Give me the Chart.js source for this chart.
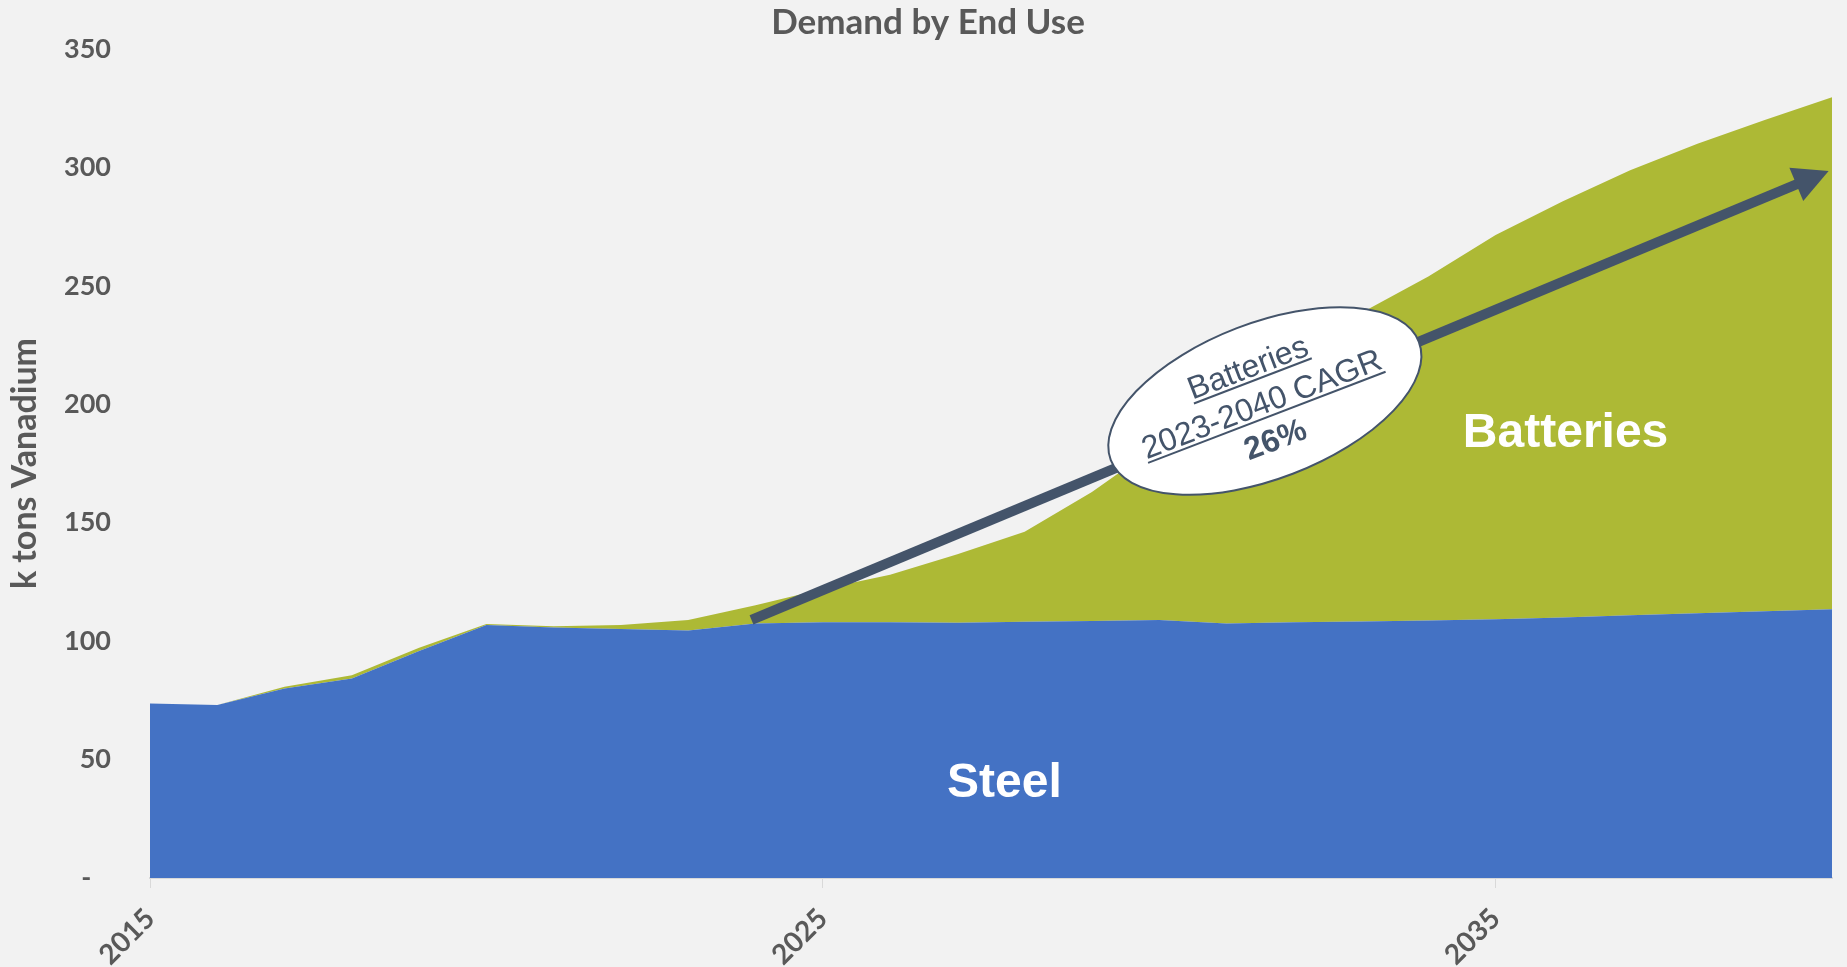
<!DOCTYPE html>
<html lang="en">
  <head>
    <meta charset="UTF-8" />
    <title>Demand by End Use</title>
    <script src="https://cdn.jsdelivr.net/npm/chart.js"></script>
    <style>
      html,
      body {
        margin: 0;
        padding: 0;
        background: #f2f2f2;
        overflow: hidden;
      }
      .chart-container {
        position: relative;
        width: 1847px;
        height: 967px;
      }
    </style>
  </head>
  <body>
    <div class="chart-container">
      <canvas id="demandChart"></canvas>
    </div>

    <script>
      // k tons vanadium by year
      const years = [
        "2015", "2016", "2017", "2018", "2019", "2020", "2021", "2022", "2023",
        "2024", "2025", "2026", "2027", "2028", "2029", "2030", "2031", "2032",
        "2033", "2034", "2035", "2036", "2037", "2038", "2039", "2040",
      ];
      const steel = [
        73.7, 73.0, 80.0, 84.2, 95.8, 106.8, 105.8, 105.1, 104.5, 107.5, 108.0,
        108.0, 107.8, 108.2, 108.5, 108.9, 107.4, 108.0, 108.3, 108.7, 109.2,
        110.0, 110.9, 111.8, 112.6, 113.5,
      ];
      const batteries = [
        0, 0, 0.7, 1.4, 1.4, 0.4, 0.5, 1.7, 4.4, 7.7, 14, 20, 28.9, 38, 54.5,
        74.1, 94.6, 112, 130.2, 145.3, 162.3, 175.7, 187.9, 198.2, 207.4, 216.1,
      ];
      const shownYears = ["2015", "2025", "2035"];
      const cagrLines = ["Batteries", "2023-2040 CAGR", "26%"];

      const grey = "#595959";
      const slate = "#44546A";

      // arrow + callout + area labels, placed in data space
      const overlay = {
        id: "overlay",
        afterDatasetsDraw(chart) {
          const ctx = chart.ctx;
          const x = chart.scales.x;
          const y = chart.scales.y;
          const px = (yr) => x.getPixelForValue(yr - 2015);

          // trend arrow
          const x0 = px(2023.94), y0 = y.getPixelForValue(109);
          const x1 = px(2039.95), y1 = y.getPixelForValue(298.5);
          const ang = Math.atan2(y1 - y0, x1 - x0);
          const headLen = 35, headW = 36;
          const bx = x1 - headLen * Math.cos(ang);
          const by = y1 - headLen * Math.sin(ang);
          ctx.save();
          ctx.strokeStyle = slate;
          ctx.fillStyle = slate;
          ctx.lineWidth = 10;
          ctx.lineCap = "butt";
          ctx.beginPath();
          ctx.moveTo(x0, y0);
          ctx.lineTo(bx + 2 * Math.cos(ang), by + 2 * Math.sin(ang));
          ctx.stroke();
          ctx.beginPath();
          ctx.moveTo(x1, y1);
          ctx.lineTo(bx + (headW / 2) * Math.sin(ang), by - (headW / 2) * Math.cos(ang));
          ctx.lineTo(bx - (headW / 2) * Math.sin(ang), by + (headW / 2) * Math.cos(ang));
          ctx.closePath();
          ctx.fill();

          // callout ellipse
          const cx = px(2031.57), cy = y.getPixelForValue(201.4);
          const rot = (-21 * Math.PI) / 180;
          ctx.translate(cx, cy);
          ctx.rotate(rot);
          ctx.beginPath();
          ctx.ellipse(0, 0, 165, 78, 0, 0, Math.PI * 2);
          ctx.fillStyle = "#ffffff";
          ctx.fill();
          ctx.lineWidth = 2;
          ctx.strokeStyle = slate;
          ctx.stroke();

          ctx.fillStyle = slate;
          ctx.textAlign = "center";
          ctx.textBaseline = "alphabetic";
          const baselines = [-27, 12, 50];
          cagrLines.forEach((line, i) => {
            ctx.font = (i === 2 ? "bold " : "") + "32px 'Liberation Sans', Arial";
            ctx.fillText(line, -4, baselines[i]);
            if (i < 2) {
              const w = ctx.measureText(line).width;
              ctx.fillRect(-4 - w / 2, baselines[i] + 3, w, 2);
            }
          });
          ctx.restore();

          // area labels
          ctx.save();
          ctx.fillStyle = "#ffffff";
          ctx.font = "bold 48px 'Liberation Sans', Arial";
          ctx.textAlign = "center";
          ctx.textBaseline = "middle";
          ctx.fillText("Batteries", px(2036.04), y.getPixelForValue(187.7));
          ctx.fillText("Steel", px(2027.7), y.getPixelForValue(39.8));
          ctx.restore();
        },
      };

      const ctx = document.getElementById("demandChart").getContext("2d");

      new Chart(ctx, {
        type: "line",
        data: {
          labels: years,
          datasets: [
            {
              label: "Steel",
              data: steel,
              fill: "origin",
              backgroundColor: "#4472C4",
              borderWidth: 0,
              pointRadius: 0,
            },
            {
              label: "Batteries",
              data: batteries,
              fill: "-1",
              backgroundColor: "#ADB935",
              borderWidth: 0,
              pointRadius: 0,
            },
          ],
        },
        options: {
          responsive: true,
          maintainAspectRatio: false,
          animation: false,
          // extra left padding keeps the title centred where the original sits
          layout: { padding: { left: 24, right: 15, top: 0, bottom: 0 } },
          plugins: {
            legend: { display: false },
            tooltip: { enabled: false },
            title: {
              display: true,
              text: "Demand by End Use",
              color: grey,
              font: { family: "Lato", size: 35, weight: "bold" },
              padding: { top: 2, bottom: 5 },
            },
          },
          scales: {
            x: {
              grid: {
                drawOnChartArea: false,
                drawTicks: true,
                tickLength: 10,
                color: "#D9D9D9",
              },
              border: { color: "#D9D9D9", width: 2 },
              ticks: {
                autoSkip: false,
                minRotation: 45,
                maxRotation: 45,
                padding: 14,
                color: grey,
                font: { family: "Lato", size: 28, weight: "bold" },
                callback: function (value) {
                  const lbl = this.getLabelForValue(value);
                  return shownYears.includes(lbl) ? lbl : null;
                },
              },
              afterFit(scale) {
                scale.height = 89;
              },
            },
            y: {
              stacked: true,
              min: 0,
              max: 350,
              grid: { display: false },
              border: { display: false },
              ticks: {
                stepSize: 50,
                padding: 31,
                color: grey,
                font: { family: "Lato", size: 27, weight: "bold" },
                callback: (v) => (v === 0 ? "-   " : v),
              },
              title: {
                display: true,
                text: "k tons Vanadium",
                color: grey,
                font: { family: "Lato", size: 34, weight: "bold" },
                padding: { top: -19, bottom: 0 },
              },
              afterFit(scale) {
                scale.width = 126;
              },
            },
          },
        },
        plugins: [overlay],
      });
    </script>
  </body>
</html>
